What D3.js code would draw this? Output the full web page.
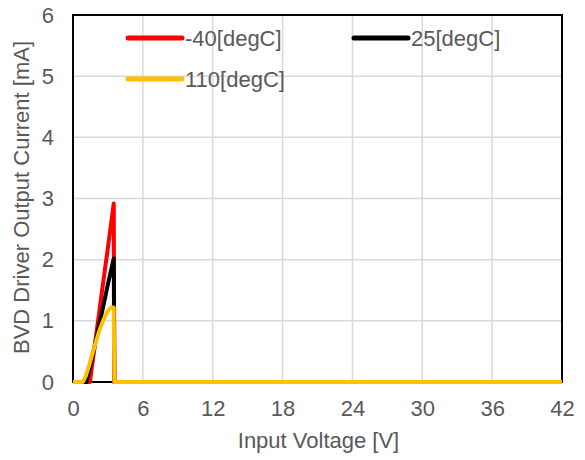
<!DOCTYPE html>
<meta charset="utf-8">
<script src="https://d3js.org/d3.v7.min.js"></script>
<style>
  body { margin: 0; background: #fff; }
  text { font-family: "Liberation Sans", Arial, sans-serif; fill: #595959; }
</style>
<body>
<div id="visual"></div>
<script>
// chart data
var xTicks = [0, 6, 12, 18, 24, 30, 36, 42];
var yTicks = [0, 1, 2, 3, 4, 5, 6];
var seriesNames = ["-40[degC]", "25[degC]", "110[degC]"];
var seriesColors = ["#ff0000", "#000000", "#ffc000"];

// [input voltage V, output current mA]
var m40 = [[0, 0], [1.45, 0], [2.0, 0.78], [2.5, 1.5], [3.0, 2.2], [3.5, 2.92], [3.55, 0], [42, 0]];
var p25 = [[0, 0], [1.15, 0], [1.6, 0.35], [2.0, 0.72], [2.5, 1.15], [3.0, 1.6], [3.5, 2.02], [3.55, 0], [42, 0]];
var p110 = [[0, 0], [0.85, 0], [1.1, 0.1], [1.4, 0.28], [1.7, 0.48], [2.0, 0.68], [2.3, 0.86], [2.6, 1.01], [2.9, 1.13], [3.1, 1.19], [3.3, 1.22], [3.5, 1.22], [3.55, 0], [42, 0]];
var allSeries = [m40, p25, p110];

// set the dimensions and margins of the graph
var margin = {top: 15, right: 23, bottom: 78, left: 73},
    width = 585 - margin.left - margin.right,
    height = 460 - margin.top - margin.bottom;

var svg = d3.select("#visual")
  .append("svg")
    .attr("width", 585)
    .attr("height", 460)
  .append("g")
    .attr("transform", "translate(" + margin.left + "," + margin.top + ")");

var x = d3.scaleLinear().domain([0, 42]).range([0, width]);
var y = d3.scaleLinear().domain([0, 6]).range([height, 0]);

// grid lines
svg.append("g").selectAll("line.v")
  .data(xTicks.slice(1, -1))
  .enter().append("line")
    .attr("x1", function(d) { return x(d); })
    .attr("x2", function(d) { return x(d); })
    .attr("y1", 0).attr("y2", height)
    .attr("stroke", "#d9d9d9").attr("stroke-width", 1.5);
svg.append("g").selectAll("line.h")
  .data(yTicks.slice(1, -1))
  .enter().append("line")
    .attr("x1", 0).attr("x2", width)
    .attr("y1", function(d) { return y(d); })
    .attr("y2", function(d) { return y(d); })
    .attr("stroke", "#d9d9d9").attr("stroke-width", 1.5);

// plot frame
svg.append("rect")
  .attr("width", width).attr("height", height)
  .attr("fill", "none").attr("stroke", "#000").attr("stroke-width", 2);

// axes (labels only)
var xAxis = svg.append("g")
  .attr("transform", "translate(0," + height + ")")
  .call(d3.axisBottom(x).tickValues(xTicks).tickFormat(d3.format("d")).tickSize(0).tickPadding(18));
var yAxis = svg.append("g")
  .call(d3.axisLeft(y).tickValues(yTicks).tickFormat(d3.format("d")).tickSize(0).tickPadding(19));
[xAxis, yAxis].forEach(function(a) {
  a.select(".domain").remove();
  a.selectAll("text").style("font-size", "22px").attr("fill", "#595959")
    .style("font-family", "'Liberation Sans', Arial, sans-serif");
});

// the lines
var line = d3.line()
  .x(function(d) { return x(d[0]); })
  .y(function(d) { return y(d[1]); });
allSeries.forEach(function(s, i) {
  svg.append("path")
    .datum(s)
    .attr("fill", "none")
    .attr("stroke", seriesColors[i])
    .attr("stroke-width", 4)
    .attr("stroke-linejoin", "round")
    .attr("d", line);
});

// legend
var legendPos = [[53, 23], [279, 23], [53, 64]];
seriesNames.forEach(function(name, i) {
  var g = svg.append("g")
    .attr("transform", "translate(" + legendPos[i][0] + "," + legendPos[i][1] + ")");
  g.append("line")
    .attr("x1", 2).attr("x2", 56)
    .attr("stroke", seriesColors[i]).attr("stroke-width", 5)
    .attr("stroke-linecap", "round");
  g.append("text")
    .attr("x", 59).attr("y", 8)
    .style("font-size", "22px")
    .text(name);
});

// axis titles
svg.append("text")
  .attr("x", width / 2 + 1).attr("y", height + 66)
  .attr("text-anchor", "middle")
  .style("font-size", "22px")
  .text("Input Voltage [V]");
svg.append("text")
  .attr("transform", "translate(" + (-44) + "," + (height / 2 - 1) + ") rotate(-90)")
  .attr("text-anchor", "middle")
  .style("font-size", "22px")
  .text("BVD Driver Output Current [mA]");
</script>
</body>
